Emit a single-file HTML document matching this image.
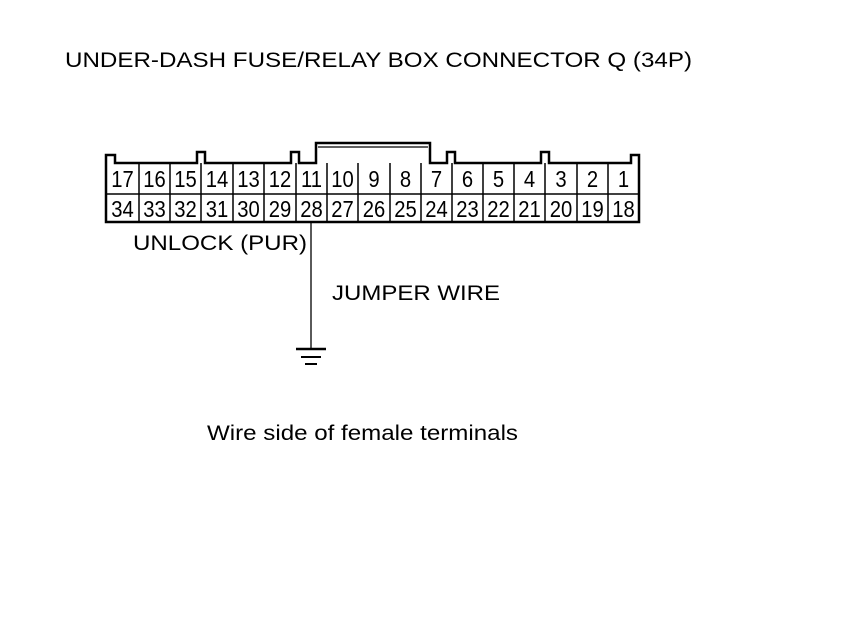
<!DOCTYPE html>
<html><head><meta charset="utf-8"><style>
html,body{margin:0;padding:0;background:#fff;}
svg{display:block;}
text{font-family:"Liberation Sans",Arial,sans-serif;fill:#000;}
</style></head><body>
<svg width="860" height="630" viewBox="0 0 860 630" xmlns="http://www.w3.org/2000/svg">
<text x="65" y="67" font-size="21" textLength="627" lengthAdjust="spacingAndGlyphs">UNDER-DASH FUSE/RELAY BOX CONNECTOR Q (34P)</text>
<g fill="none" stroke="#000" stroke-width="2.5">
<path d="M106,222 L106,155 L115,155 L115,163 L197,163 L197,152 L205,152 L205,163 L291,163 L291,152 L299,152 L299,163 L316,163 L316,143 L430,143 L430,163 L447,163 L447,152 L455,152 L455,163 L541,163 L541,152 L549,152 L549,163 L631,163 L631,155 L639,155 L639,222 Z"/>
<line x1="318" y1="147" x2="428" y2="147" stroke-width="1.2"/>
</g>
<g stroke="#000" stroke-width="1.5">
<line x1="106" y1="194" x2="639" y2="194"/>
<line x1="139" y1="163" x2="139" y2="222"/>
<line x1="170" y1="163" x2="170" y2="222"/>
<line x1="201" y1="163" x2="201" y2="222"/>
<line x1="233" y1="163" x2="233" y2="222"/>
<line x1="264" y1="163" x2="264" y2="222"/>
<line x1="296" y1="163" x2="296" y2="222"/>
<line x1="327" y1="163" x2="327" y2="222"/>
<line x1="358" y1="163" x2="358" y2="222"/>
<line x1="390" y1="163" x2="390" y2="222"/>
<line x1="421" y1="163" x2="421" y2="222"/>
<line x1="452" y1="163" x2="452" y2="222"/>
<line x1="483" y1="163" x2="483" y2="222"/>
<line x1="514" y1="163" x2="514" y2="222"/>
<line x1="545" y1="163" x2="545" y2="222"/>
<line x1="577" y1="163" x2="577" y2="222"/>
<line x1="608" y1="163" x2="608" y2="222"/>
</g>
<g font-size="23" text-anchor="middle" transform="translate(0,0)">
<g transform="scale(0.88,1)">
<text x="139.2" y="187">17</text><text x="175.6" y="187">16</text><text x="210.8" y="187">15</text><text x="246.6" y="187">14</text><text x="282.4" y="187">13</text><text x="318.2" y="187">12</text><text x="354" y="187">11</text><text x="389.2" y="187">10</text><text x="425" y="187">9</text><text x="460.8" y="187">8</text><text x="496" y="187">7</text><text x="531.3" y="187">6</text><text x="566.5" y="187">5</text><text x="601.7" y="187">4</text><text x="637.5" y="187">3</text><text x="673.3" y="187">2</text><text x="708.5" y="187">1</text>
<text x="139.2" y="217">34</text><text x="175.6" y="217">33</text><text x="210.8" y="217">32</text><text x="246.6" y="217">31</text><text x="282.4" y="217">30</text><text x="318.2" y="217">29</text><text x="354" y="217">28</text><text x="389.2" y="217">27</text><text x="425" y="217">26</text><text x="460.8" y="217">25</text><text x="496" y="217">24</text><text x="531.3" y="217">23</text><text x="566.5" y="217">22</text><text x="601.7" y="217">21</text><text x="637.5" y="217">20</text><text x="673.3" y="217">19</text><text x="708.5" y="217">18</text>
</g>
</g>
<line x1="311" y1="222" x2="311" y2="349" stroke="#000" stroke-width="1.3"/>
<line x1="296" y1="349" x2="326" y2="349" stroke="#000" stroke-width="2.5"/>
<line x1="301" y1="357" x2="321" y2="357" stroke="#000" stroke-width="2"/>
<line x1="305" y1="364" x2="317" y2="364" stroke="#000" stroke-width="2"/>
<text x="133" y="250" font-size="21" textLength="174" lengthAdjust="spacingAndGlyphs">UNLOCK (PUR)</text>
<text x="332" y="300" font-size="21" textLength="168" lengthAdjust="spacingAndGlyphs">JUMPER WIRE</text>
<text x="207" y="440" font-size="21" textLength="311" lengthAdjust="spacingAndGlyphs">Wire side of female terminals</text>
</svg>
</body></html>
